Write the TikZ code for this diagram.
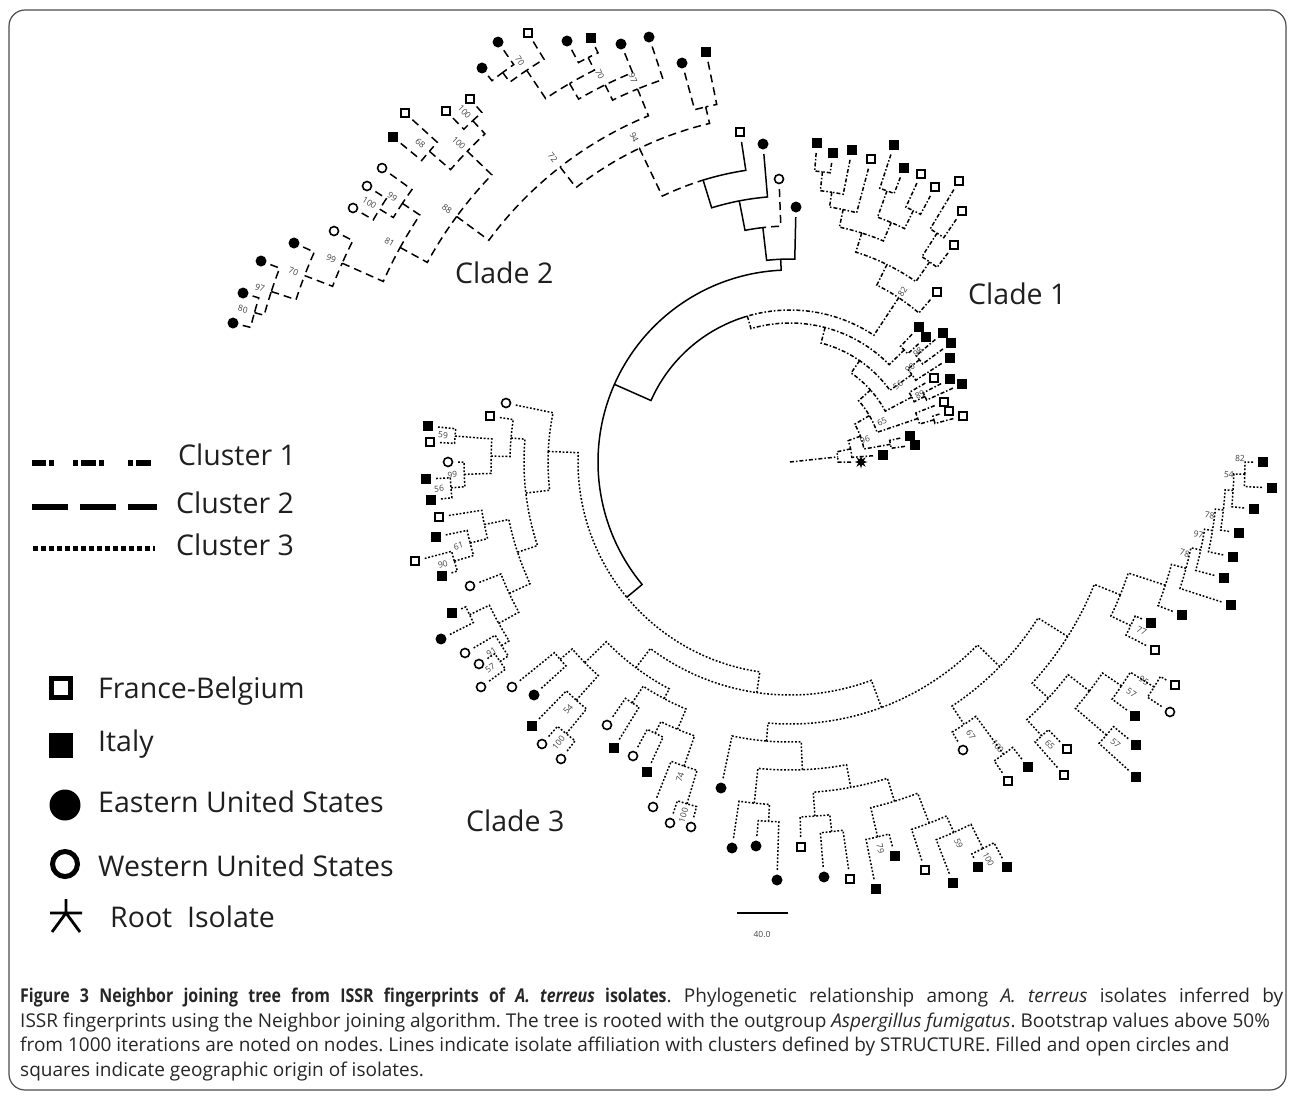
\documentclass[tikz,border=0pt]{standalone}
\usepackage{fontspec}
\setmainfont{Open Sans}
\newfontfamily\capbf{Open Sans}[FakeStretch=0.84]
\usetikzlibrary{shapes.geometric}
\frenchspacing

\tikzset{
  branch/.style={line width=1.5pt},
  cl0/.style={branch},
  cl1/.style={branch, dash pattern=on 4pt off 2pt on 1.5pt off 2pt},
  cl2/.style={branch, dash pattern=on 8pt off 5pt},
  cl3/.style={branch, dash pattern=on 1.8pt off 1.8pt},
  fsq/.style={rectangle, fill=black, minimum size=10pt, inner sep=0pt},
  osq/.style={rectangle, draw=black, line width=1.8pt, fill=white, minimum size=8pt, inner sep=0pt},
  fci/.style={circle, fill=black, minimum size=11pt, inner sep=0pt},
  oci/.style={circle, draw=black, line width=1.6pt, fill=white, minimum size=9pt, inner sep=0pt},
  rootmark/.style={star, star points=8, star point ratio=2.2, fill=black, minimum size=13pt, inner sep=0pt},
  boot/.style={font=\fontsize{8.5}{8.5}\selectfont, text=black!75, inner sep=0pt},
  big/.style={font=\fontsize{28.5}{30}\selectfont, text=black!88, inner sep=0pt, anchor=base west},
  capline/.style={font=\fontsize{19}{22}\selectfont, text=black!85, inner sep=0pt, anchor=base west},
}

% polar tree helpers, centre of the tree at pixel (790,462)
\makeatletter
\def\tcut{-20}
\def\tipgap{10}
\def\tbda{0}
\def\tbdr{12}
\newcommand\tleaf[5]{%
  \pgfmathsetmacro\t@a{mod(atan2(462-#3,#2-790)+360-(\tcut),360)+(\tcut)}%
  \pgfmathsetmacro\t@r{100*veclen((#2-790)/100,(#3-462)/100)}%
  \pgfmathsetmacro\t@tip{\t@r-\tipgap}%
  \expandafter\xdef\csname tr@#1@a\endcsname{\t@a}%
  \expandafter\xdef\csname tr@#1@r\endcsname{\t@tip}%
  \expandafter\xdef\csname tr@#1@s\endcsname{#5}%
  \node[#4] (#1) at (\t@a:\t@r) {};%
}
\newcommand\tjoin[6]{%
  \edef\t@aa{\csname tr@#3@a\endcsname}%
  \edef\t@ab{\csname tr@#4@a\endcsname}%
  \edef\t@ra{\csname tr@#3@r\endcsname}%
  \edef\t@rb{\csname tr@#4@r\endcsname}%
  \pgfmathsetmacro\t@m{(\t@aa+\t@ab)/2}%
  \edef\t@cmd{\noexpand\draw[\csname tr@#3@s\endcsname]}%
  \t@cmd (\t@aa:\t@ra) -- (\t@aa:#2) arc[start angle=\t@aa, end angle=\t@m, radius=#2];%
  \edef\t@cmd{\noexpand\draw[\csname tr@#4@s\endcsname]}%
  \t@cmd (\t@ab:\t@rb) -- (\t@ab:#2) arc[start angle=\t@ab, end angle=\t@m, radius=#2];%
  \coordinate (#1) at (\t@m:#2);%
  \expandafter\xdef\csname tr@#1@a\endcsname{\t@m}%
  \expandafter\xdef\csname tr@#1@r\endcsname{#2}%
  \expandafter\xdef\csname tr@#1@s\endcsname{#5}%
  \ifx\relax#6\relax\else
    \pgfmathsetmacro\t@rot{cos(\t@m)>0 ? \t@m : \t@m-180}%
    \node[boot, rotate=\t@rot] at (\t@m+\tbda:#2+\tbdr) {#6};%
  \fi
}
\newcommand\tbootat[3]{%
  \pgfmathsetmacro\t@q{atan2(462-#2,#1-790)}%
  \pgfmathsetmacro\t@rot{cos(\t@q)>0 ? \t@q : \t@q-180}%
  \node[boot, rotate=\t@rot] at (#1-790,462-#2) {#3};%
}
\newcommand\tstem[1]{%
  \edef\t@aa{\csname tr@#1@a\endcsname}%
  \edef\t@ra{\csname tr@#1@r\endcsname}%
  \edef\t@cmd{\noexpand\draw[\csname tr@#1@s\endcsname]}%
  \t@cmd (root) -- (\t@aa:\t@ra);%
}
\makeatother

\begin{document}
\begin{tikzpicture}[x=1pt,y=1pt]
\useasboundingbox (0,0) rectangle (1293,-1095);
\draw[black!70, line width=1.2pt, rounded corners=16pt] (9,-10) rectangle (1286,-1090);

\begin{scope}[shift={(790,-462)}]
\coordinate (root) at (0,0);
% Clade 2
\def\tcut{-20}
\tleaf{c2a}{233}{323}{fci}{cl2}
\tleaf{c2b}{243}{293}{fci}{cl2}
\tleaf{c2c}{261}{261}{fci}{cl2}
\tleaf{c2d}{294}{243}{fci}{cl2}
\tleaf{c2e}{334}{231}{oci}{cl2}
\tleaf{c2f}{353}{208}{oci}{cl2}
\tleaf{c2g}{367}{186}{oci}{cl2}
\tleaf{c2h}{382}{168}{oci}{cl2}
\tleaf{c2i}{393}{137}{fsq}{cl2}
\tleaf{c2j}{405}{113}{osq}{cl2}
\tleaf{c2k}{446}{111}{osq}{cl2}
\tleaf{c2l}{470}{99}{osq}{cl2}
\tleaf{c2m}{482}{68}{fci}{cl2}
\tleaf{c2n}{498}{42}{fci}{cl2}
\tleaf{c2o}{528}{33}{osq}{cl2}
\tleaf{c2p}{567}{41}{fci}{cl2}
\tleaf{c2q}{591}{38}{fsq}{cl2}
\tleaf{c2r}{621}{44}{fci}{cl2}
\tleaf{c2s}{649}{37}{fci}{cl2}
\tleaf{c2t}{682}{63}{fci}{cl2}
\tleaf{c2u}{706}{52}{fsq}{cl2}
\tleaf{c2v}{740}{132}{osq}{cl0}
\tleaf{c2w}{763}{144}{fci}{cl0}
\tleaf{c2x}{779}{179}{oci}{cl2}
\tleaf{c2y}{796}{207}{fci}{cl0}
\tjoin{j80}{556}{c2a}{c2b}{cl2}{80}
\tjoin{j97}{546}{j80}{c2c}{cl2}{97}
\tjoin{j70a}{520}{j97}{c2d}{cl2}{70}
\tjoin{j99a}{490}{j70a}{c2e}{cl2}{99}
\tjoin{j100a}{482}{c2f}{c2g}{cl2}{100}
\tjoin{j99b}{466}{j100a}{c2h}{cl2}{99}
\tjoin{j81}{445}{j99a}{j99b}{cl2}{81}
\tjoin{j68}{476}{c2i}{c2j}{cl2}{68}
\tjoin{j100b}{466}{c2k}{c2l}{cl2}{100}
\tjoin{j100c}{448}{j68}{j100b}{cl2}{100}
\tjoin{j88}{414}{j81}{j100c}{cl2}{88}
\tjoin{n1}{484}{c2m}{c2n}{cl2}{}
\tjoin{j70b}{472}{n1}{c2o}{cl2}{70}
\tjoin{n4}{452}{c2p}{c2q}{cl2}{}
\tjoin{n3}{438}{j70b}{n4}{cl2}{}
\tjoin{j70c}{420}{n3}{c2r}{cl2}{70}
\tjoin{j97b}{403}{j70c}{c2s}{cl2}{97}
\tjoin{j72}{374}{j88}{j97b}{cl2}{72}
\tjoin{n5}{365}{c2t}{c2u}{cl2}{}
\tjoin{j94}{348}{j72}{n5}{cl2}{94}
\tjoin{S1}{295}{j94}{c2v}{cl0}{}
\tjoin{S2}{266}{S1}{c2w}{cl0}{}
\tjoin{S3}{236}{S2}{c2x}{cl0}{}
\tjoin{S4}{203}{S3}{c2y}{cl0}{}

% Clade 3
\def\tcut{100}
\tleaf{L1}{506}{403}{oci}{cl3}
\tleaf{L2}{490}{416}{osq}{cl3}
\tleaf{L3}{428}{426}{fsq}{cl3}
\tleaf{L4}{430}{442}{osq}{cl3}
\tleaf{L5}{448}{462}{oci}{cl3}
\tleaf{L6}{426}{479}{fsq}{cl3}
\tleaf{L7}{431}{500}{fsq}{cl3}
\tleaf{L8}{439}{517}{osq}{cl3}
\tleaf{L9}{436}{537}{fsq}{cl3}
\tleaf{L10}{415}{561}{osq}{cl3}
\tleaf{L11}{442}{576}{fsq}{cl3}
\tleaf{L12}{470}{586}{oci}{cl3}
\tleaf{L13}{452}{613}{fsq}{cl3}
\tleaf{L14}{441}{639}{fci}{cl3}
\tleaf{L15}{465}{653}{oci}{cl3}
\tleaf{L16}{479}{664}{oci}{cl3}
\tleaf{L17}{481}{687}{oci}{cl3}
\tleaf{L18}{512}{687}{oci}{cl3}
\tleaf{L19}{534}{695}{fci}{cl3}
\tleaf{L20}{532}{726}{fsq}{cl3}
\tleaf{L21}{542}{744}{oci}{cl3}
\tleaf{L22}{561}{759}{oci}{cl3}
\tleaf{L23}{607}{725}{oci}{cl3}
\tleaf{L24}{614}{748}{fsq}{cl3}
\tleaf{L25}{633}{756}{oci}{cl3}
\tleaf{L26}{647}{772}{fsq}{cl3}
\tleaf{L27}{653}{807}{oci}{cl3}
\tleaf{L28}{670}{823}{oci}{cl3}
\tleaf{L29}{691}{827}{oci}{cl3}
\tleaf{L30}{721}{788}{fci}{cl3}
\tleaf{L31}{732}{848}{fci}{cl3}
\tleaf{L32}{756}{846}{fci}{cl3}
\tleaf{L33}{777}{880}{fci}{cl3}
\tleaf{L34}{801}{847}{osq}{cl3}
\tleaf{L35}{824}{877}{fci}{cl3}
\tleaf{L36}{850}{879}{osq}{cl3}
\tleaf{L37}{876}{889}{fsq}{cl3}
\tleaf{L38}{895}{856}{fsq}{cl3}
\tleaf{L39}{925}{870}{osq}{cl3}
\tleaf{L40}{953}{883}{fsq}{cl3}
\tleaf{L41}{978}{867}{fsq}{cl3}
\tleaf{L42}{1007}{867}{fsq}{cl3}
\tleaf{L43}{963}{750}{oci}{cl3}
\tleaf{L44}{1008}{781}{osq}{cl3}
\tleaf{L45}{1028}{767}{fsq}{cl3}
\tleaf{L46}{1064}{775}{osq}{cl3}
\tleaf{L47}{1067}{749}{osq}{cl3}
\tleaf{L48}{1136}{777}{fsq}{cl3}
\tleaf{L49}{1136}{745}{fsq}{cl3}
\tleaf{L50}{1135}{716}{fsq}{cl3}
\tleaf{L51}{1170}{712}{oci}{cl3}
\tleaf{L52}{1175}{685}{osq}{cl3}
\tleaf{L53}{1155}{650}{osq}{cl3}
\tleaf{L54}{1151}{623}{fsq}{cl3}
\tleaf{L55}{1182}{615}{fsq}{cl3}
\tleaf{L56}{1231}{605}{fsq}{cl3}
\tleaf{L57}{1224}{578}{fsq}{cl3}
\tleaf{L58}{1233}{557}{fsq}{cl3}
\tleaf{L59}{1239}{533}{fsq}{cl3}
\tleaf{L60}{1254}{509}{fsq}{cl3}
\tleaf{L61}{1272}{488}{fsq}{cl3}
\tleaf{L62}{1263}{462}{fsq}{cl3}
\tjoin{g59a}{336}{L3}{L4}{cl3}{59}
\tjoin{g56a}{340}{L6}{L7}{cl3}{56}
\tjoin{g99c}{326}{L5}{g56a}{cl3}{99}
\tjoin{ge}{299}{g59a}{g99c}{cl3}{}
\tjoin{gg}{280}{L2}{ge}{cl3}{}
\tjoin{g90a}{350}{L10}{L11}{cl3}{90}
\tjoin{g61}{330}{L9}{g90a}{cl3}{61}
\tjoin{gi}{312}{L8}{g61}{cl3}{}
\tjoin{gx}{355}{L13}{L14}{cl3}{}
\tjoin{g57a}{352}{L16}{L17}{cl3}{57}
\tjoin{g91}{342}{L15}{g57a}{cl3}{91}
\tjoin{gn}{333}{gx}{g91}{cl3}{}
\tjoin{gk}{310}{L12}{gn}{cl3}{}
\tjoin{gd}{287}{gi}{gk}{cl3}{}
\tjoin{gb}{266}{gg}{gd}{cl3}{}
\tjoin{ga}{242}{L1}{gb}{cl3}{}
\tjoin{gr}{303}{L18}{L19}{cl3}{}
\tjoin{g100a}{352}{L21}{L22}{cl3}{100}
\tjoin{g54a}{320}{L20}{g100a}{cl3}{54}
\tjoin{gs}{287}{gr}{g54a}{cl3}{}
\tjoin{gp1}{288}{L23}{L24}{cl3}{}
\tjoin{gw1}{303}{L25}{L26}{cl3}{}
\tjoin{g100b}{357}{L28}{L29}{cl3}{100}
\tjoin{g74}{322}{L27}{g100b}{cl3}{74}
\tjoin{gp2}{290}{gw1}{g74}{cl3}{}
\tjoin{gc}{268}{gp1}{gp2}{cl3}{}
\tjoin{gf}{257}{gs}{gc}{cl3}{}
\tjoin{gb3b}{360}{L32}{L33}{cl3}{}
\tjoin{gb3}{343}{L31}{gb3b}{cl3}{}
\tjoin{gb5b}{372}{L35}{L36}{cl3}{}
\tjoin{gb5}{355}{L34}{gb5b}{cl3}{}
\tjoin{g79}{385}{L37}{L38}{cl3}{79}
\tjoin{g100c}{432}{L41}{L42}{cl3}{100}
\tjoin{g59b}{405}{L40}{g100c}{cl3}{59}
\tjoin{gb8}{387}{L39}{g59b}{cl3}{}
\tjoin{gb6}{355}{g79}{gb8}{cl3}{}
\tjoin{gb4}{331}{gb5}{gb6}{cl3}{}
\tjoin{gb2}{308}{gb3}{gb4}{cl3}{}
\tjoin{gb1}{280}{L30}{gb2}{cl3}{}
\def\tbdr{-10}
\tjoin{g100d}{362}{L44}{L45}{cl3}{100}
\def\tbdr{12}
\tjoin{g67}{315}{L43}{g100d}{cl3}{67}
\tjoin{g65a}{372}{L46}{L47}{cl3}{65}
\tjoin{g57b}{418}{L48}{L49}{cl3}{57}
\def\tbdr{-12}
\tjoin{g95}{428}{L51}{L52}{cl3}{95}
\def\tbdr{12}
\tjoin{g57c}{400}{L50}{g95}{cl3}{57}
\tjoin{gof}{377}{g57b}{g57c}{cl3}{}
\tjoin{goc}{350}{g65a}{gof}{cl3}{}
\tjoin{g77}{378}{L53}{L54}{cl3}{77}
\def\tbda{2}\def\tbdr{-5}
\tjoin{g82b}{455}{L61}{L62}{cl3}{82}
\tjoin{g54b}{444}{L60}{g82b}{cl3}{54}
\tjoin{gop}{436}{L59}{g54b}{cl3}{}
\tjoin{g78b}{428}{L58}{gop}{cl3}{78}
\tjoin{g97c}{420}{L57}{g78b}{cl3}{97}
\tjoin{g78a}{410}{L56}{g97c}{cl3}{78}
\def\tbda{0}\def\tbdr{12}
\tjoin{goj}{395}{L55}{g78a}{cl3}{}
\tjoin{god}{356}{g77}{goj}{cl3}{}
\tjoin{gob}{328}{goc}{god}{cl3}{}
\tjoin{gor}{293}{g67}{gob}{cl3}{}
\tjoin{grr}{262}{gb1}{gor}{cl3}{}
\tjoin{g3r}{233}{gf}{grr}{cl3}{}
\tjoin{r3}{212}{ga}{g3r}{cl0}{}
\tjoin{K2}{192}{S4}{r3}{cl0}{}

% Clade 1
\def\tcut{-20}
\tleaf{u1}{817}{143}{fsq}{cl1}
\tleaf{u2}{833}{153}{fsq}{cl1}
\tleaf{u3}{852}{150}{fsq}{cl1}
\tleaf{u4}{871}{159}{osq}{cl1}
\tleaf{u5}{894}{145}{fsq}{cl1}
\tleaf{u6}{904}{168}{fsq}{cl1}
\tleaf{u7}{921}{174}{osq}{cl1}
\tleaf{u8}{935}{187}{osq}{cl1}
\tleaf{u9}{959}{181}{osq}{cl1}
\tleaf{u10}{962}{211}{osq}{cl1}
\tleaf{u11}{954}{245}{osq}{cl1}
\tleaf{u12}{937}{292}{osq}{cl1}
\tleaf{qa1}{919}{327}{fsq}{cl1}
\tleaf{qa2}{926}{337}{fsq}{cl1}
\tleaf{qa3}{943}{333}{fsq}{cl1}
\tleaf{qa4}{951}{343}{fsq}{cl1}
\tleaf{qa5}{950}{358}{fsq}{cl1}
\tleaf{qb1}{934}{378}{osq}{cl1}
\tleaf{qb2}{950}{379}{fsq}{cl1}
\tleaf{qb3}{962}{384}{fsq}{cl1}
\tleaf{qc1}{944}{402}{osq}{cl1}
\tleaf{qc2}{949}{411}{osq}{cl1}
\tleaf{qc3}{963}{416}{osq}{cl1}
\tleaf{qd1}{910}{436}{fsq}{cl1}
\tleaf{qd2}{915}{445}{fsq}{cl1}
\tleaf{qd3}{883}{455}{fsq}{cl1}
\tleaf{rootiso}{861}{462}{rootmark}{cl1}
\tjoin{uA}{292}{u1}{u2}{cl1}{}
\tjoin{uB}{273}{uA}{u3}{cl1}{}
\tjoin{uC}{258}{uB}{u4}{cl1}{}
\tjoin{uE}{288}{u5}{u6}{cl1}{}
\tjoin{uF}{280}{u7}{u8}{cl1}{}
\tjoin{uG}{260}{uE}{uF}{cl1}{}
\tjoin{uD}{240}{uC}{uG}{cl1}{}
\tjoin{uH}{272}{u9}{u10}{cl1}{}
\tjoin{uI}{244}{uH}{u11}{cl1}{}
\tjoin{uJ}{220}{uD}{uI}{cl1}{}
\def\tbdr{7}
\tjoin{uK}{197}{uJ}{u12}{cl1}{82}
\def\tbdr{12}
\tjoin{K1}{152}{K2}{uK}{cl1}{}
\tjoin{jA1}{160}{qa1}{qa2}{cl1}{}
\tjoin{K0}{139}{K1}{jA1}{cl1}{}
\tjoin{j98}{165}{qa3}{qa4}{cl1}{}
\tjoin{j90}{150}{j98}{qa5}{cl1}{}
\tjoin{Km1}{123}{K0}{j90}{cl1}{}
\tjoin{j89}{150}{qb2}{qb3}{cl1}{}
\tjoin{jB1}{138}{qb1}{j89}{cl1}{}
\tjoin{Km2}{108}{Km1}{jB1}{cl1}{}
\tjoin{jC1}{150}{qc2}{qc3}{cl1}{}
\tjoin{jC2}{135}{qc1}{jC1}{cl1}{}
\tjoin{Km3}{92}{Km2}{jC2}{cl1}{}
\tjoin{jD1}{102}{qd1}{qd2}{cl1}{}
\tjoin{Km4}{75}{Km3}{jD1}{cl1}{}
\tjoin{Km5}{62}{Km4}{qd3}{cl1}{}
\tjoin{Km6}{48}{Km5}{rootiso}{cl1}{}
\tstem{Km6}
\tbootat{918}{352}{98}
\tbootat{910}{368}{90}
\tbootat{898}{385}{56}
\tbootat{920}{395}{89}
\tbootat{882}{422}{65}
\tbootat{865}{440}{96}
\end{scope}

% clade names
\node[big] (lab2) at (455,-283) {Clade 2};
\node[big] (lab1) at (968,-304) {Clade 1};
\node[big] (lab3) at (466,-831) {Clade 3};

% scale bar
\coordinate (sba) at (737,-913);
\coordinate (sbb) at (788,-913);
\draw[line width=1.5pt] (sba) -- (sbb);
\node[boot] (sbl) at (762,-934) {40.0};

% legend: clusters
\draw[line width=5.5pt, dash pattern=on 14pt off 3pt on 5pt off 19pt on 5pt off 3pt on 15pt off 3pt on 5pt off 24pt on 5pt off 3pt on 15pt] (32,-463) -- (151,-463);
\draw[line width=5.5pt, dash pattern=on 36pt off 12pt] (32,-507) -- (157,-507);
\draw[line width=5pt, dash pattern=on 5pt off 3pt] (33,-548) -- (155,-548);
\node[big] (t1) at (178,-465) {Cluster 1};
\node[big] (t2) at (176,-513) {Cluster 2};
\node[big] (t3) at (176,-555) {Cluster 3};

% legend: origins
\node[draw, line width=5pt, minimum size=19pt, inner sep=0pt] (lgfb) at (61,-688) {};
\node[fill, minimum width=24pt, minimum height=25pt, inner sep=0pt] (lgit) at (61,-745) {};
\node[circle, fill, minimum size=31pt, inner sep=0pt] (lgeu) at (65,-805) {};
\node[circle, draw, line width=5pt, minimum size=25pt, inner sep=0pt] (lgwu) at (65,-864) {};
\draw[line width=2.8pt] (50,-913) -- (82,-913) (66,-899) -- (66,-913) (52,-932) -- (66,-913) -- (80,-932);
\node[big] (tfb) at (98,-698) {France-Belgium};
\node[big] (tit) at (98,-751) {Italy};
\node[big] (teu) at (98,-812) {Eastern United States};
\node[big] (twu) at (98,-876) {Western United States};
\node[big] (tri) at (110,-927) {Root\ \ Isolate};

% caption
\node[capline] (cap1) at (20,-1002) {\makebox[1263pt][s]{{\capbf\bfseries Figure 3 Neighbor joining tree from ISSR fingerprints of \textit{A. terreus} isolates}. Phylogenetic relationship among \textit{A. terreus} isolates inferred by}};
\node[capline] (cap2) at (20,-1027) {ISSR fingerprints using the Neighbor joining algorithm. The tree is rooted with the outgroup \textit{Aspergillus fumigatus}. Bootstrap values above 50\%};
\node[capline] (cap3) at (20,-1051) {from 1000 iterations are noted on nodes. Lines indicate isolate affiliation with clusters defined by STRUCTURE. Filled and open circles and};
\node[capline] (cap4) at (20,-1076) {squares indicate geographic origin of isolates.};
\end{tikzpicture}
\end{document}
